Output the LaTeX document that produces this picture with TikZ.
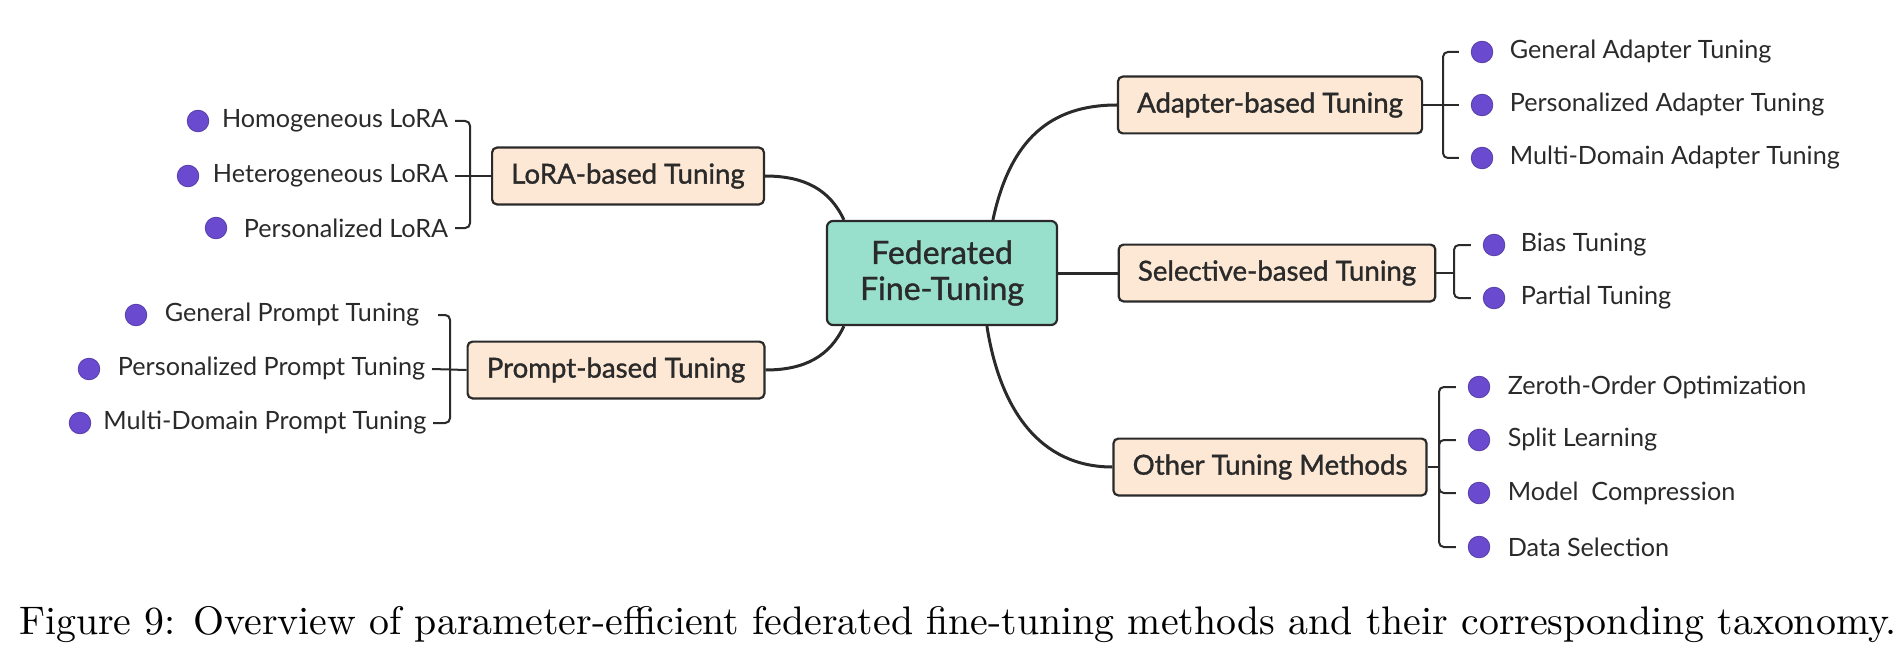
\documentclass[tikz,border=0pt]{standalone}
\usepackage{fontspec}
\newfontfamily\leaffont{Lato}
\newfontfamily\boxfont[FakeBold=1.2]{Lato}
\usetikzlibrary{calc}
\definecolor{peach}{HTML}{FCE8D4}
\definecolor{teal}{HTML}{98DFCC}
\definecolor{dotc}{HTML}{6A4BCF}
\definecolor{linec}{HTML}{2A2A2A}
\tikzset{
  leaf/.style={inner sep=0pt, font=\leaffont\fontsize{6.3}{8}\selectfont, text=linec},
  dotn/.style={circle, fill=dotc, draw=dotc!80!black, line width=0.2pt, minimum size=5.4pt, inner sep=0pt},
  catbox/.style={draw=linec, line width=0.55pt, fill=peach, rounded corners=1.2pt, minimum height=14.2pt, inner xsep=4.8pt, font=\boxfont\fontsize{6.9}{8.6}\selectfont, text=linec},
  rootbox/.style={draw=linec, line width=0.55pt, fill=teal, rounded corners=1.5pt, minimum width=57.5pt, minimum height=26pt, align=center, font=\boxfont\fontsize{8}{9}\selectfont, text=linec},
  conn/.style={draw=linec, line width=0.75pt},
  br/.style={draw=linec, line width=0.5pt, rounded corners=1.2pt}
}
\begin{document}
\begin{tikzpicture}[x=0.25pt, y=-0.25pt]
\useasboundingbox (0,0) rectangle (1901,663);
% root
\node[rootbox] (root) at (942,273) {Federated\\Fine-Tuning};
% categories
\node[catbox] (lora) at (628,176) {LoRA-based Tuning};
\node[catbox] (prompt) at (616,370) {Prompt-based Tuning};
\node[catbox] (adapter) at (1270,105) {Adapter-based Tuning};
\node[catbox] (select) at (1277,273) {Selective-based Tuning};
\node[catbox] (other) at (1270,467) {Other Tuning Methods};
% connectors
\draw[conn] ($(root.north west)+(18,0)$) .. controls (830,190) and (805,176) .. (lora.east);
\draw[conn] ($(root.south west)+(18,0)$) .. controls (830,356) and (805,370) .. (prompt.east);
\draw[conn] ($(root.north west)+(167,0)$) .. controls (1010,140) and (1050,105) .. (adapter.west);
\draw[conn] (root.east) -- (select.west);
\draw[conn] ($(root.south west)+(161,0)$) .. controls (1000,410) and (1040,467) .. (other.west);
% LoRA leaves
\node[leaf, anchor=east] (l1) at (449,121) {Homogeneous LoRA};
\node[leaf, anchor=east] (l2) at (449,176) {Heterogeneous LoRA};
\node[leaf, anchor=east] (l3) at (449,228) {Personalized LoRA};
\node[dotn] (dl1) at (198,121) {};
\node[dotn] (dl2) at (188,176) {};
\node[dotn] (dl3) at (216,228) {};
\coordinate (bl) at (470,176);
\draw[br] ($(l1.east)+(6,0)$) -| (bl) |- ($(l3.east)+(6,0)$);
\draw[br] ($(l2.east)+(6,0)$) -- (lora.west);
% Prompt leaves
\node[leaf, anchor=east] (p1) at (420,315) {General Prompt Tuning};
\node[leaf, anchor=east] (p2) at (426,369) {Personalized Prompt Tuning};
\node[leaf, anchor=east] (p3) at (427,423) {Multi-Domain Prompt Tuning};
\node[dotn] (dp1) at (136,315) {};
\node[dotn] (dp2) at (89,369) {};
\node[dotn] (dp3) at (80,423) {};
\coordinate (bp) at (450,370);
\draw[br] ($(p1.east)+(18,0)$) -| (bp) |- ($(p3.east)+(6,0)$);
\draw[br] ($(p2.east)+(6,0)$) -- (prompt.west);
% Adapter leaves
\node[dotn] (da1) at (1482,52) {};
\node[dotn] (da2) at (1482,105) {};
\node[dotn] (da3) at (1482,158) {};
\node[leaf, anchor=west] (a1) at (1509,52) {General Adapter Tuning};
\node[leaf, anchor=west] (a2) at (1509,105) {Personalized Adapter Tuning};
\node[leaf, anchor=west] (a3) at (1509,158) {Multi-Domain Adapter Tuning};
\coordinate (ba) at (1443,105);
\draw[br] ($(da1.west)+(-12,0)$) -| (ba) |- ($(da3.west)+(-12,0)$);
\draw[br] (adapter.east) -- ($(da2.west)+(-12,0)$);
% Selective leaves
\node[dotn] (ds1) at (1494,245) {};
\node[dotn] (ds2) at (1494,298) {};
\node[leaf, anchor=west] (s1) at (1520,245) {Bias Tuning};
\node[leaf, anchor=west] (s2) at (1520,298) {Partial Tuning};
\coordinate (bs) at (1454,273);
\draw[br] ($(ds1.west)+(-12,0)$) -| (bs) |- ($(ds2.west)+(-12,0)$);
\draw[br] (select.east) -- (bs);
% Other leaves
\node[dotn] (do1) at (1479,387) {};
\node[dotn] (do2) at (1479,440) {};
\node[dotn] (do3) at (1479,493) {};
\node[dotn] (do4) at (1479,547) {};
\node[leaf, anchor=west] (o1) at (1507,387) {Zeroth-Order Optimization};
\node[leaf, anchor=west] (o2) at (1507,440) {Split Learning};
\node[leaf, anchor=west] (o3) at (1507,493) {Model\ \ Compression};
\node[leaf, anchor=west] (o4) at (1507,547) {Data Selection};
\coordinate (bo) at (1439,467);
\draw[br] ($(do1.west)+(-12,0)$) -| (bo) |- ($(do4.west)+(-12,0)$);
\draw[br] ($(do2.west)+(-12,0)$) -| (bo);
\draw[br] ($(do3.west)+(-12,0)$) -| (bo);
\draw[br] (other.east) -- (bo);
% caption
\node[inner sep=0pt, font=\fontsize{9.96}{12}\selectfont] (cap) at (958,625) {Figure 9: Overview of parameter-efficient federated fine-tuning methods and their corresponding taxonomy.};
\end{tikzpicture}
\end{document}
